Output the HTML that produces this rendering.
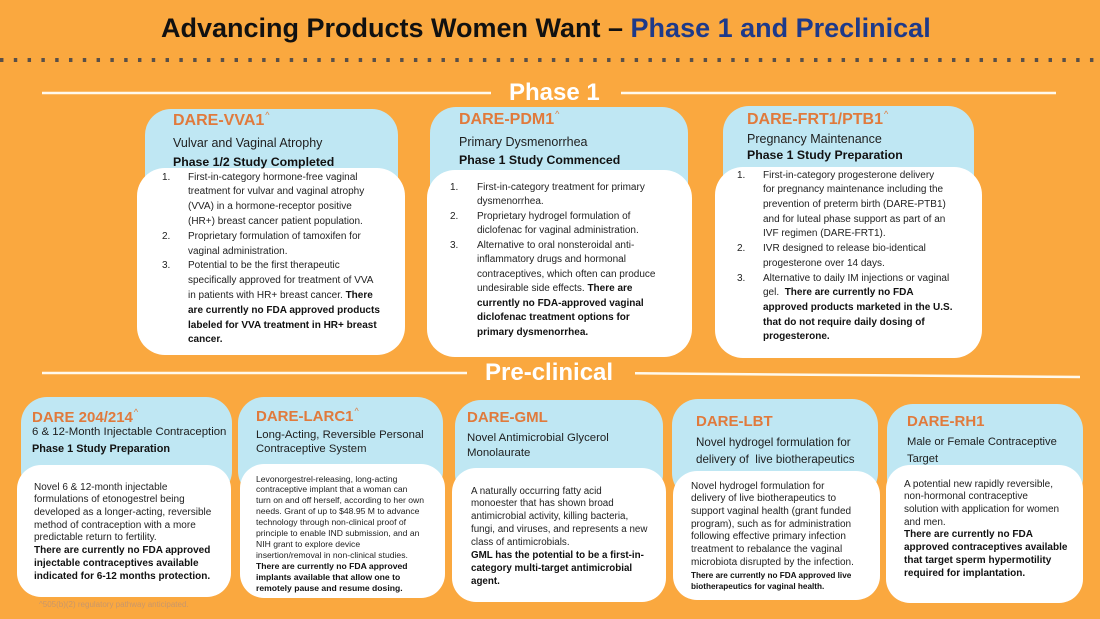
<!DOCTYPE html>
<html><head><meta charset="utf-8">
<style>
*{margin:0;padding:0;box-sizing:border-box}
html,body{width:1100px;height:619px;overflow:hidden}
body{background:#FAA83F;font-family:"Liberation Sans",Arial,sans-serif;position:relative;color:#1a1a1a}
.a{position:absolute;white-space:nowrap}
.blue{position:absolute;background:#BFE7F3;border-radius:26px}
.white{position:absolute;background:#fff;border-radius:28px}
.ttl{position:absolute;white-space:nowrap;color:#E07A3C;font-weight:bold;line-height:18px;height:18px}
.car{display:inline-block;font-size:9px;font-weight:normal;color:#E07A3C;line-height:0;position:relative;top:-7px;margin-left:1px}
.sub{position:absolute;white-space:nowrap;color:#1e1e1e}
.sub b{color:#111}
.body{position:absolute;white-space:nowrap;color:#222}
.body b{color:#111}
.li{position:relative}
.n{position:absolute}
</style></head><body>

<!-- header -->
<div class="a" style="left:161px;top:12px;font-size:27px;font-weight:bold;line-height:32px;color:#111">Advancing Products Women Want – <span style="color:#1E3A8A">Phase 1 and Preclinical</span></div>
<div class="a" style="left:0;top:58px;width:1100px;height:4px;background:linear-gradient(to right,#5A5048 0,#5A5048 3.5px,transparent 3.5px) 0 0/13.8px 4px repeat-x"></div>

<svg class="a" style="left:0;top:0" width="1100" height="619">
<line x1="42" y1="93" x2="491" y2="93" stroke="#FFF9EC" stroke-width="2.5"/>
<line x1="621" y1="93" x2="1056" y2="93" stroke="#FFF9EC" stroke-width="2.5"/>
<line x1="42" y1="373" x2="467" y2="373" stroke="#FFF9EC" stroke-width="2.5"/>
<line x1="635" y1="373.3" x2="1080" y2="377" stroke="#FFF9EC" stroke-width="2.5"/>
</svg>
<div class="a" style="left:509px;top:79px;font-size:24px;font-weight:bold;color:#fff;line-height:28px">Phase 1</div>
<div class="a" style="left:485px;top:359px;font-size:24px;font-weight:bold;color:#fff;line-height:28px">Pre-clinical</div>

<!-- Phase 1 card 1 -->
<div class="blue" style="left:145px;top:109px;width:253px;height:110px"></div>
<div class="white" style="left:137px;top:168px;width:268px;height:187px"></div>
<div class="ttl" style="left:173px;top:112px;font-size:16px">DARE-VVA1<span class="car">^</span></div>
<div class="sub" style="left:173px;top:133.5px;font-size:12.5px;line-height:19px">Vulvar and Vaginal Atrophy<br><b style="font-size:12.3px">Phase 1/2 Study Completed</b></div>
<div class="body" style="left:162px;top:170.6px;font-size:10px;line-height:14.8px">
<div class="li" style="padding-left:26px"><span class="n" style="left:0">1.</span>First-in-category hormone-free vaginal<br>treatment for vulvar and vaginal atrophy<br>(VVA) in a hormone-receptor positive<br>(HR+) breast cancer patient population.</div>
<div class="li" style="padding-left:26px"><span class="n" style="left:0">2.</span>Proprietary formulation of tamoxifen for<br>vaginal administration.</div>
<div class="li" style="padding-left:26px"><span class="n" style="left:0">3.</span>Potential to be the first therapeutic<br>specifically approved for treatment of VVA<br>in patients with HR+ breast cancer. <b>There<br>are currently no FDA approved products<br>labeled for VVA treatment in HR+ breast<br>cancer.</b></div>
</div>

<!-- Phase 1 card 2 -->
<div class="blue" style="left:430px;top:107px;width:258px;height:110px"></div>
<div class="white" style="left:427px;top:170px;width:265px;height:187px"></div>
<div class="ttl" style="left:459px;top:111px;font-size:16px">DARE-PDM1<span class="car">^</span></div>
<div class="sub" style="left:459px;top:133px;font-size:12.5px;line-height:18px">Primary Dysmenorrhea<br><b style="font-size:12.3px">Phase 1 Study Commenced</b></div>
<div class="body" style="left:450px;top:180.75px;font-size:10px;line-height:14.5px">
<div class="li" style="padding-left:27px"><span class="n" style="left:0">1.</span>First-in-category treatment for primary<br>dysmenorrhea.</div>
<div class="li" style="padding-left:27px"><span class="n" style="left:0">2.</span>Proprietary hydrogel formulation of<br>diclofenac for vaginal administration.</div>
<div class="li" style="padding-left:27px"><span class="n" style="left:0">3.</span>Alternative to oral nonsteroidal anti-<br>inflammatory drugs and hormonal<br>contraceptives, which often can produce<br>undesirable side effects. <b>There are<br>currently no FDA-approved vaginal<br>diclofenac treatment options for<br>primary dysmenorrhea.</b></div>
</div>

<!-- Phase 1 card 3 -->
<div class="blue" style="left:723px;top:106px;width:251px;height:110px"></div>
<div class="white" style="left:715px;top:167px;width:267px;height:191px"></div>
<div class="ttl" style="left:747px;top:111px;font-size:16px">DARE-FRT1/PTB1<span class="car">^</span></div>
<div class="sub" style="left:747px;top:131px;font-size:12.5px;line-height:16px">Pregnancy Maintenance<br><b style="font-size:12.3px">Phase 1 Study Preparation</b></div>
<div class="body" style="left:737px;top:168.65px;font-size:10px;line-height:14.7px">
<div class="li" style="padding-left:26px"><span class="n" style="left:0">1.</span>First-in-category progesterone delivery<br>for pregnancy maintenance including the<br>prevention of preterm birth (DARE-PTB1)<br>and for luteal phase support as part of an<br>IVF regimen (DARE-FRT1).</div>
<div class="li" style="padding-left:26px"><span class="n" style="left:0">2.</span>IVR designed to release bio-identical<br>progesterone over 14 days.</div>
<div class="li" style="padding-left:26px"><span class="n" style="left:0">3.</span>Alternative to daily IM injections or vaginal<br>gel.&nbsp; <b>There are currently no FDA<br>approved products marketed in the U.S.<br>that do not require daily dosing of<br>progesterone.</b></div>
</div>

<!-- Pre-clinical A -->
<div class="blue" style="left:21px;top:397px;width:211px;height:100px"></div>
<div class="white" style="left:17px;top:465px;width:214px;height:132px;border-radius:24px"></div>
<div class="ttl" style="left:32px;top:409px;font-size:15px">DARE 204/214<span class="car">^</span></div>
<div class="sub" style="left:32px;top:423.5px;font-size:11.4px;line-height:17px">6 &amp; 12-Month Injectable Contraception<br><b style="font-size:10.9px">Phase 1 Study Preparation</b></div>
<div class="body" style="left:34px;top:481.65px;font-size:10px;line-height:12.7px">Novel 6 &amp; 12-month injectable<br>formulations of etonogestrel being<br>developed as a longer-acting, reversible<br>method of contraception with a more<br>predictable return to fertility.<br><b>There are currently no FDA approved<br>injectable contraceptives available<br>indicated for 6-12 months protection.</b></div>
<div class="a" style="left:39px;top:600px;font-size:8px;line-height:10px;color:#C9976A">^505(b)(2) regulatory pathway anticipated.</div>

<!-- Pre-clinical B -->
<div class="blue" style="left:238px;top:397px;width:205px;height:100px"></div>
<div class="white" style="left:240px;top:464px;width:205px;height:134px;border-radius:24px"></div>
<div class="ttl" style="left:256px;top:408px;font-size:15px">DARE-LARC1<span class="car">^</span></div>
<div class="sub" style="left:256px;top:428px;font-size:11.3px;line-height:14px">Long-Acting, Reversible Personal<br>Contraceptive System</div>
<div class="body" style="left:256px;top:473.55px;font-size:8.6px;line-height:10.9px">Levonorgestrel-releasing, long-acting<br>contraceptive implant that a woman can<br>turn on and off herself, according to her own<br>needs. Grant of up to $48.95 M to advance<br>technology through non-clinical proof of<br>principle to enable IND submission, and an<br>NIH grant to explore device<br>insertion/removal in non-clinical studies.<br><b>There are currently no FDA approved<br>implants available that allow one to<br>remotely pause and resume dosing.</b></div>

<!-- Pre-clinical C -->
<div class="blue" style="left:455px;top:400px;width:208px;height:100px"></div>
<div class="white" style="left:452px;top:468px;width:214px;height:134px;border-radius:24px"></div>
<div class="ttl" style="left:467px;top:409px;font-size:15px">DARE-GML</div>
<div class="sub" style="left:467px;top:430.5px;font-size:11.4px;line-height:15px">Novel Antimicrobial Glycerol<br>Monolaurate</div>
<div class="body" style="left:471px;top:485.55px;font-size:9.8px;line-height:12.9px">A naturally occurring fatty acid<br>monoester that has shown broad<br>antimicrobial activity, killing bacteria,<br>fungi, and viruses, and represents a new<br>class of antimicrobials.<br><b>GML has the potential to be a first-in-<br>category multi-target antimicrobial<br>agent.</b></div>

<!-- Pre-clinical D -->
<div class="blue" style="left:672px;top:399px;width:206px;height:100px"></div>
<div class="white" style="left:673px;top:471px;width:207px;height:129px;border-radius:24px"></div>
<div class="ttl" style="left:696px;top:413px;font-size:15px">DARE-LBT</div>
<div class="sub" style="left:696px;top:433.5px;font-size:11.6px;line-height:17px">Novel hydrogel formulation for<br>delivery of&nbsp; live biotherapeutics</div>
<div class="body" style="left:691px;top:480.65px;font-size:10px;line-height:12.7px">Novel hydrogel formulation for<br>delivery of live biotherapeutics to<br>support vaginal health (grant funded<br>program), such as for administration<br>following effective primary infection<br>treatment to rebalance the vaginal<br>microbiota disrupted by the infection.</div>
<div class="body" style="left:691px;top:569.5px;font-size:8.2px;line-height:11px"><b>There are currently no FDA approved live<br>biotherapeutics for vaginal health.</b></div>

<!-- Pre-clinical E -->
<div class="blue" style="left:887px;top:404px;width:196px;height:100px"></div>
<div class="white" style="left:886px;top:465px;width:197px;height:138px;border-radius:24px"></div>
<div class="ttl" style="left:907px;top:413px;font-size:15px">DARE-RH1</div>
<div class="sub" style="left:907px;top:433.5px;font-size:11.2px;line-height:17px">Male or Female Contraceptive<br>Target</div>
<div class="body" style="left:904px;top:478.65px;font-size:10px;line-height:12.7px">A potential new rapidly reversible,<br>non-hormonal contraceptive<br>solution with application for women<br>and men.<br><b>There are currently no FDA<br>approved contraceptives available<br>that target sperm hypermotility<br>required for implantation.</b></div>

</body></html>
